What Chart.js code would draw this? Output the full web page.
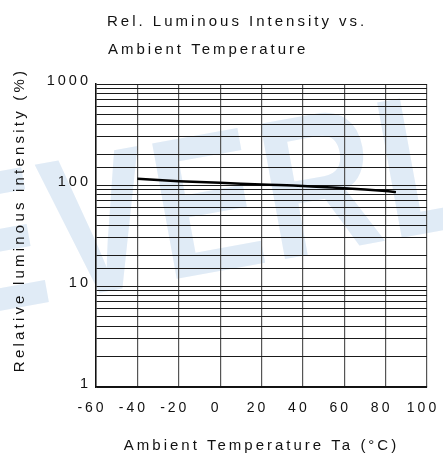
<!DOCTYPE html>
<html>
<head>
<meta charset="utf-8">
<script src="https://cdn.jsdelivr.net/npm/chart.js@4"></script>
<style>
html,body{margin:0;padding:0;background:#fff;}
#wrap{width:443px;height:459px;position:relative;}
</style>
</head>
<body>
<div id="wrap"><canvas id="c" width="443" height="459"></canvas></div>
<script>
const titleLines = ["Rel. Luminous Intensity vs.", "Ambient Temperature"];
const xTitle = "Ambient Temperature Ta (°C)";
const yTitle = "Relative luminous intensity (%)";
const temperatures = [-40, -20, 0, 20, 40, 60, 80, 85];
const intensity = [115, 109, 105, 101, 98, 93, 87, 85];
const xTicks = [-60, -40, -20, 0, 20, 40, 60, 80, 100];
const yLabelTicks = [1, 10, 100, 1000];
const watermark = "EVERLIGHT";

const FONT = "'Liberation Sans', Arial, sans-serif";

const spacingPlugin = {
  id: 'spacing',
  beforeLayout(chart) { chart.ctx.letterSpacing = '3px'; },
  beforeDraw(chart) {
    const ctx = chart.ctx;
    ctx.save();
    ctx.letterSpacing = '4px';
    ctx.fillStyle = 'rgb(224,235,246)';
    ctx.font = "bold 200px " + FONT;
    ctx.translate(-50, 320);
    ctx.rotate(-0.18);
    ctx.scale(0.8, 1);
    ctx.fillText(watermark, 0, 0);
    ctx.restore();
    ctx.letterSpacing = '3px';
  },
  afterDraw(chart) {
    const ctx = chart.ctx;
    ctx.save();
    ctx.letterSpacing = '3px';
    ctx.fillStyle = '#111';
    ctx.font = "15px " + FONT;
    ctx.textAlign = 'left';
    ctx.textBaseline = 'alphabetic';
    ctx.fillText(titleLines[0], 107, 26);
    ctx.fillText(titleLines[1], 108, 54);
    ctx.translate(24, 220);
    ctx.rotate(-Math.PI / 2);
    ctx.textAlign = 'center';
    ctx.letterSpacing = '3.2px';
    ctx.fillText(yTitle, 0, 0);
    ctx.restore();
    ctx.letterSpacing = '3px';
  }
};

new Chart(document.getElementById('c'), {
  type: 'line',
  data: {
    datasets: [{
      data: temperatures.map((t, i) => ({x: t, y: intensity[i]})),
      borderColor: '#000',
      borderWidth: 2.5,
      pointRadius: 0,
      tension: 0.3,
      fill: false
    }]
  },
  options: {
    responsive: false,
    animation: false,
    devicePixelRatio: 1,
    layout: { padding: { top: 84, right: 16, bottom: 0, left: 0 } },
    plugins: { legend: { display: false }, tooltip: { enabled: false }, title: { display: false } },
    scales: {
      x: {
        type: 'linear',
        min: -60, max: 100,
        afterFit(s) { s.height = 72; s.paddingLeft = 0; s.paddingRight = 0; },
        afterBuildTicks(s) { s.ticks = xTicks.map(v => ({value: v})); },
        ticks: { color: '#111', font: { family: FONT, size: 14 }, padding: 13, maxRotation: 0, autoSkip: false, labelOffset: -4 },
        grid: { color: '#555', lineWidth: 1.2, drawTicks: false },
        border: { color: '#111', width: 1.5 },
        title: { display: true, text: xTitle, color: '#111', font: { family: FONT, size: 15 }, padding: { top: 0, bottom: 4 } }
      },
      y: {
        type: 'logarithmic',
        min: 1, max: 1000,
        afterFit(s) { s.width = 96; s.paddingTop = 0; s.paddingBottom = 0; },
        ticks: {
          color: '#111', font: { family: FONT, size: 14.5 }, padding: 5, autoSkip: false, labelOffset: -3,
          callback: (v) => yLabelTicks.includes(v) ? String(v) : ''
        },
        grid: { color: '#1a1a1a', lineWidth: 1, drawTicks: false },
        border: { color: '#111', width: 1.5 },
        title: { display: false }
      }
    }
  },
  plugins: [spacingPlugin]
});
</script>
</body>
</html>
